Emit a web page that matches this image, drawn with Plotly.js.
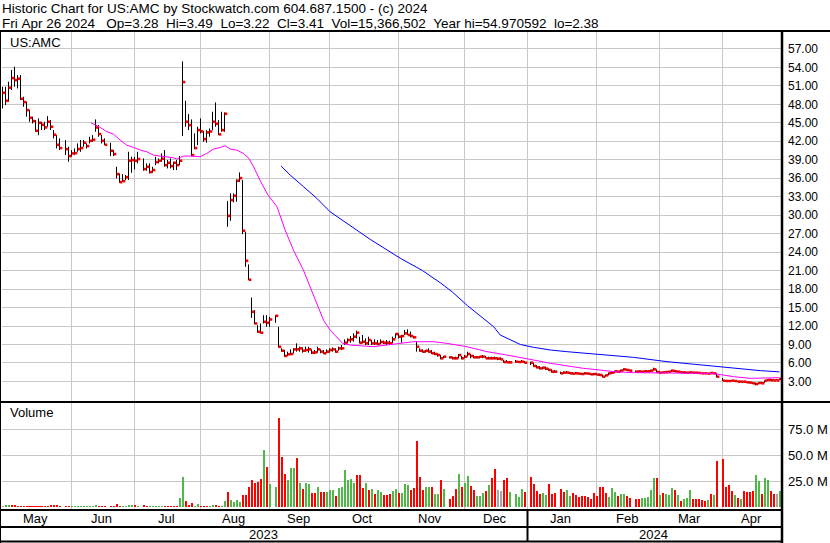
<!DOCTYPE html>
<html><head><meta charset="utf-8">
<script src="https://cdn.plot.ly/plotly-3.0.1.min.js"></script>
<style>html,body{margin:0;padding:0;background:#fff}#chart{width:830px;height:543px}</style>
</head><body><div id="chart"></div>
<script>
// slot index = weekday index from Mon May 1 2023 (market holidays are null)
const high = [
50.86,50.86,51.67,53.57,54.11,52.75,52.75,49.23,48.42,47.07,
45.99,45.44,45.72,45.17,45.17,46.09,45.44,43.82,43.01,42.47,
null,42.20,41.11,40.57,40.84,41.65,42.20,42.20,41.65,42.74,
43.01,45.55,44.63,43.01,42.47,null,41.76,40.57,37.86,36.78,
36.67,36.51,40.30,39.49,39.49,40.30,null,39.22,38.41,38.41,
37.86,39.49,39.22,40.03,40.57,38.95,39.22,38.68,38.95,39.60,
54.97,48.58,46.42,45.55,43.28,44.36,45.72,43.66,43.82,44.09,
46.80,48.31,45.44,46.80,46.69,32.29,33.53,33.53,35.81,36.94,
35.70,27.30,22.00,16.63,14.58,12.14,12.41,13.76,13.76,13.49,
null,13.76,11.87,8.37,8.10,7.83,8.21,8.37,9.18,8.64,
8.53,8.64,8.64,8.21,8.10,8.64,8.21,8.10,8.21,8.37,
8.53,8.37,8.64,8.91,9.83,9.99,10.37,10.81,11.24,10.26,
10.54,9.99,10.26,9.72,9.83,9.72,9.83,9.62,9.72,9.62,
10.26,10.81,10.81,10.54,11.35,11.46,11.08,10.37,9.45,8.37,
8.21,8.10,8.37,8.10,7.83,7.56,7.29,7.13,null,7.02,
7.02,7.02,7.45,7.13,7.29,7.83,7.45,7.29,7.13,7.13,
7.29,7.13,7.02,7.02,7.02,6.91,6.91,6.47,6.47,6.31,
null,6.47,6.31,6.47,6.31,null,6.20,6.04,5.66,5.50,
5.39,5.39,5.12,4.96,4.85,null,4.58,4.64,4.69,4.53,
4.48,4.53,4.42,4.37,4.48,4.42,4.31,4.37,4.31,4.26,
4.10,4.10,4.42,4.58,4.75,4.75,4.91,5.12,5.02,4.91,
null,4.75,4.75,4.69,4.75,4.75,4.91,5.23,4.96,4.64,
4.58,4.64,4.69,4.91,4.80,4.69,4.64,4.58,4.53,4.58,
4.53,4.53,4.48,4.42,4.42,4.37,4.48,4.42,4.31,null,
3.56,3.23,3.18,3.23,3.18,3.07,3.07,3.02,2.96,2.96,
2.85,2.75,2.85,2.91,3.18,3.34,3.45,3.34,3.40,3.49];
const low = [
47.34,47.88,48.42,50.32,50.86,50.59,48.69,47.61,46.00,45.17,
44.90,43.55,43.01,43.82,43.82,44.36,43.82,42.47,40.84,40.57,
null,39.76,38.68,39.49,39.76,40.30,40.30,41.11,40.84,41.65,
41.93,43.55,42.74,41.65,41.38,null,39.60,39.60,35.97,35.27,
35.43,35.70,35.70,36.89,37.43,38.41,null,37.21,37.21,36.78,
36.89,38.13,38.41,38.68,37.86,37.59,37.59,37.33,37.33,38.13,
42.85,44.36,43.82,39.60,40.73,41.38,43.28,41.93,41.76,42.74,
43.82,44.36,43.01,43.55,43.55,28.12,29.09,32.08,32.18,35.43,
26.92,21.62,19.45,13.33,12.30,10.90,10.79,12.41,11.87,11.87,
null,12.52,8.50,7.83,7.02,7.13,7.29,7.56,7.83,7.83,
7.67,7.83,7.67,7.45,7.45,7.67,7.56,7.45,7.56,7.67,
7.83,7.67,7.99,8.10,8.91,9.18,9.29,9.45,9.99,9.18,
9.18,8.91,8.91,8.91,8.91,8.91,9.07,9.07,8.91,8.91,
9.18,9.99,9.99,9.29,10.54,10.54,10.16,9.99,7.83,7.83,
7.67,7.67,7.67,7.45,7.29,7.02,6.58,6.75,null,6.75,
6.58,6.58,6.75,6.58,6.75,7.02,6.75,6.75,6.75,6.75,
6.75,6.75,6.58,6.58,6.58,6.47,6.47,6.04,6.04,5.93,
null,6.04,6.04,6.04,5.93,null,5.66,5.39,5.12,4.96,
4.96,4.85,4.74,4.42,4.42,null,4.20,4.26,4.31,4.20,
4.15,4.20,4.15,4.10,4.15,4.15,4.04,4.04,4.04,3.93,
3.66,3.77,3.99,4.26,4.37,4.48,4.53,4.75,4.75,4.64,
null,4.48,4.48,4.48,4.53,4.53,4.58,4.75,4.42,4.31,
4.37,4.42,4.48,4.53,4.53,4.48,4.42,4.37,4.31,4.31,
4.37,4.31,4.26,4.26,4.20,4.20,4.26,4.20,3.66,null,
3.07,2.96,2.96,3.02,2.96,2.91,2.85,2.85,2.75,2.69,
2.58,2.38,2.53,2.64,2.75,3.07,3.12,3.12,3.18,3.22];
const close = [
49.88,48.58,50.70,52.27,51.94,52.16,48.91,48.37,47.07,45.82,
45.28,43.71,45.01,44.69,44.25,45.17,44.36,43.06,41.43,40.90,
null,40.73,39.60,40.03,40.08,40.73,40.90,41.76,41.22,42.09,
42.25,44.25,43.17,42.09,41.43,null,40.46,39.92,36.67,35.37,
35.53,36.18,38.84,38.95,38.84,39.11,null,37.49,37.86,37.00,
37.33,38.62,38.84,39.16,38.13,38.51,37.97,38.51,38.13,38.84,
51.62,45.17,44.63,39.76,40.90,43.82,43.60,42.36,43.44,43.60,
45.17,44.85,43.12,43.82,46.47,29.90,32.45,33.15,35.59,36.02,
27.47,22.59,19.51,14.30,12.41,11.06,10.90,12.68,12.52,13.06,
null,13.66,8.62,7.99,7.13,7.40,7.45,8.21,8.21,8.37,
7.99,8.10,8.21,7.67,7.72,8.21,7.83,7.56,7.83,8.10,
8.21,7.83,8.37,8.37,9.29,9.72,9.83,10.26,10.91,9.29,
9.45,9.18,9.72,9.18,9.18,9.07,9.40,9.29,9.29,9.18,
9.83,10.70,10.26,10.37,10.81,10.54,10.37,10.16,8.64,7.99,
7.83,7.99,7.83,7.56,7.45,7.29,6.75,7.02,null,6.91,
6.75,6.75,7.29,6.75,7.02,7.45,7.13,6.91,6.91,7.02,
7.02,6.75,6.75,6.75,6.75,6.69,6.58,6.15,6.10,6.10,
null,6.20,6.15,6.20,6.04,null,6.04,5.50,5.28,5.12,
5.23,5.07,4.85,4.58,4.58,null,4.31,4.42,4.42,4.31,
4.26,4.31,4.26,4.20,4.31,4.26,4.15,4.20,4.10,4.04,
3.77,3.99,4.31,4.42,4.64,4.58,4.75,4.96,4.85,4.75,
null,4.58,4.64,4.58,4.64,4.64,4.75,4.96,4.53,4.42,
4.48,4.53,4.58,4.75,4.64,4.58,4.48,4.48,4.42,4.48,
4.42,4.42,4.37,4.31,4.31,4.26,4.37,4.31,3.77,null,
3.12,3.07,3.07,3.12,3.07,2.96,2.96,2.96,2.85,2.80,
2.69,2.58,2.75,2.69,3.12,3.23,3.18,3.15,3.15,3.41];
// volume in millions of shares
const volume = [
0.5,2.0,2.2,2.0,1.5,1.2,1.0,1.0,1.0,1.0,
1.0,1.0,1.0,1.0,1.0,1.0,1.5,1.8,1.5,1.0,
null,1.0,1.0,1.0,1.0,1.0,1.0,1.0,1.0,1.0,
1.2,2.4,1.0,1.0,1.0,null,1.0,1.0,2.8,1.0,
1.0,1.2,2.2,2.2,1.5,0.5,null,1.5,1.0,1.2,
1.2,1.2,1.2,1.2,1.0,1.2,1.2,1.0,1.2,8.3,
28.5,5.8,1.9,3.5,1.0,2.6,0.6,0.5,0.5,1.0,
1.9,1.9,1.0,0.5,5.8,14.1,6.7,5.1,6.7,5.1,
11.5,11.5,18.9,25.9,23.4,24.3,26.6,54.7,38.1,22.1,
null,19.5,85.8,47.7,31.7,25.9,37.1,37.1,46.7,22.7,
17.0,22.7,22.1,13.1,13.1,18.9,14.7,14.7,14.7,16.3,
16.3,10.6,17.9,18.9,35.5,25.9,26.6,22.7,30.7,30.7,
17.9,22.7,16.3,17.0,12.5,16.3,14.7,11.5,11.5,12.5,
15.7,17.0,13.8,13.8,22.1,21.1,16.3,17.9,63.7,28.5,
16.3,18.9,18.9,18.9,12.5,12.5,25.9,17.0,null,7.7,
10.6,17.0,31.7,18.9,22.7,29.8,20.2,16.3,10.6,10.6,
13.1,15.7,21.1,27.5,36.5,16.3,15.7,25.9,27.5,14.4,
null,12.5,9.9,17.0,14.4,null,28.5,22.1,15.7,12.5,
13.1,11.5,22.1,12.5,13.1,null,17.0,14.4,16.3,10.6,
13.1,11.5,9.9,10.6,10.6,9.3,7.7,13.1,10.6,18.9,
19.5,13.1,9.9,17.9,14.7,10.6,12.2,12.2,10.9,8.3,
null,7.7,7.7,8.6,8.6,9.3,16.3,27.8,27.8,11.5,
13.8,12.5,11.2,18.2,16.3,11.5,6.1,8.0,8.6,16.3,
7.4,7.4,7.4,6.7,5.8,6.7,12.5,11.5,44.5,null,
46.1,18.9,21.1,15.7,11.5,9.0,7.7,15.7,14.7,14.7,
15.7,30.7,25.3,12.5,27.8,25.9,15.7,12.5,12.5,15.4];
// u = up day (green), d = down day (red), n = unchanged (grey), - = no trading
const volumeDir = [
"nuuddddddd","dddddddddd","-dduuuuuuu","uuddd-dddd","uuuudu-ddu",
"uuuudddddu","uddduudddu","udduuduuuu","dddddddudu","-uddduuudu",
"duudduddu" + "u","uduuuuuudd","dududuuddd","uuduuudddd","duuduudu-d",
"dduduudduu","ududdnnddu","-uuud-dddd","uuddd-dduu","dddddddddd",
"dduuuduudd","-dduuuuudu","duuududuuu","dddddudud-","ddddududdd",
"duuduuddnu"];
const maFastIdx = [29.5,32.6,34.8,37,39.2,41.4,43.7,45.9,48.1,50.3,52.6,54.8,57,58.1,60.3,63.1,65.9,68.1,70.3,72.6,74.2,75.9,78.1,80.3,82,83.7,85.9,88.5,91.5,94.2,97,100.3,102.6,104.8,107,109.2,111.5,113.4,115.9,119.2,123.7,128.1,132.6,137,143.7,148.1,154.8,161.5,168.1,174.8,177,182.6,188.1,193.7,199.2,203.7,210.3,215.9,221.5,228.1,234.8,238.1,243.7,249.2,254.8,259];
const maFastVal = [45.0,44.25,43.55,43.17,42.2,41.38,41.0,40.57,40.30,39.76,39.60,39.49,39.33,39.11,39.60,39.60,39.49,40.03,40.73,41.0,41.27,40.73,40.57,40.03,39.3,37.86,35.6,33.26,31.37,27.6,24.3,21.08,18.37,15.66,12.95,11.33,10.2,9.17,8.9,8.74,8.64,8.91,9.18,9.45,9.45,9.18,8.64,7.83,7.29,6.75,6.48,5.94,5.50,5.12,4.85,4.58,4.42,4.42,4.42,4.42,4.31,4.20,3.77,3.50,3.50,3.60];
const maSlowIdx = [92.9,95.9,100.4,104.8,109.2,113.7,118.1,122.6,132.6,140,146,150,155,158.1,163.7,165.9,168.1,172.6,177,182.6,188.1,199.2,210.3,221.5,232.6,243.7,252.6,259];
const maSlowVal = [37.97,36.51,34.6,32.72,30.55,29.09,27.6,26.06,23.0,21.0,19.0,17.5,15.3,14.05,11.89,10.54,10.0,9.0,8.54,8.1,7.83,7.4,6.91,6.21,5.67,5.12,4.75,4.55];
const monthNames = ['May','Jun','Jul','Aug','Sep','Oct','Nov','Dec','Jan','Feb','Mar','Apr'];
const monthStart = [0,23,44,66,89,109,132,154,175,198,219,240];
const yearNames = ['2023','2024'];
const yearStart = [0,175];
const priceTicks = [3,6,9,12,15,18,21,24,27,30,33,36,39,42,45,48,51,54,57];
const volumeTicks = [25,50,75];
const header1 = 'Historic Chart for US:AMC by Stockwatch.com 604.687.1500 - (c) 2024';
const header2 = 'Fri Apr 26 2024   Op=3.28  Hi=3.49  Lo=3.22  Cl=3.41  Vol=15,366,502  Year hi=54.970592  lo=2.38';
const symbolLabel = 'US:AMC';
const nSlots = 260;

// ---------- build ----------
const W = 830, H = 543;
const px = x => x / W, py = y => 1 - y / H;
const dirStr = volumeDir.join('');
const dirColor = {u:'#4fb848', d:'#ff0000', n:'#a6a6a6'};
const idx = [...Array(nSlots).keys()];
const hlX = [], hlY = [];
idx.forEach(i => { if (high[i] != null) { hlX.push(i, i, null); hlY.push(low[i], high[i], null); } });
const volColors = idx.map(i => dirColor[dirStr[i]] || '#a6a6a6');

const FONT = 'Arial, "Liberation Sans", sans-serif';
const traces = [
  {type:'scatter', mode:'lines', x:hlX, y:hlY, line:{color:'#000', width:1}, xaxis:'x', yaxis:'y', hoverinfo:'skip'},
  {type:'scatter', mode:'markers', x:idx.map(i => i + 0.5), y:close, marker:{symbol:'square', size:2.6, color:'#ff0000', line:{width:0}}, xaxis:'x', yaxis:'y'},
  {type:'scatter', mode:'lines', x:maFastIdx, y:maFastVal, line:{color:'#ff00ff', width:1}, xaxis:'x', yaxis:'y'},
  {type:'scatter', mode:'lines', x:maSlowIdx, y:maSlowVal, line:{color:'#0000ff', width:1}, xaxis:'x', yaxis:'y'},
  {type:'bar', x:idx, y:volume, width:0.67, marker:{color:volColors, line:{width:0}}, xaxis:'x2', yaxis:'y2'}
];

const gridIdx = monthStart.slice(1);
const xr = [-1/6, -1/6 + 779/3];
const xCommon = {range:xr, tickmode:'array', tickvals:gridIdx, showticklabels:false, showgrid:true,
  gridcolor:'#c8c8c8', gridwidth:1, zeroline:false, showline:false, ticks:'', fixedrange:true, automargin:false};

const pxPerUnit = 6.157;
const priceRange = [12 + (326 - 402) / pxPerUnit, 12 + (326 - 31) / pxPerUnit];
const volPx = 1.04, volZero = 507;
const volRange = [(volZero - 509) / volPx, (volZero - 403) / volPx];

const txt = (x, y, text, size, xanchor, xref, yanchor) => ({xref:xref || 'paper', yref:'paper', x:x, y:y, xanchor:xanchor || 'left', yanchor:yanchor || 'middle',
  text:text, showarrow:false, borderpad:0, font:{family:FONT, size:size, color:'#000'}});
const ann = [];
ann.push(txt(px(1), py(0.2), header1, 13.5, 'left', 'paper', 'top'));
ann.push(txt(px(1), py(15.4), header2.replace(/ /g, '\u00a0'), 13.5, 'left', 'paper', 'top'));
ann.push(txt(px(9), py(42), symbolLabel, 13));
ann.push(txt(px(9), py(413), 'Volume', 13));
monthNames.forEach((m, k) => {
  const s = monthStart[k], e = k + 1 < monthStart.length ? monthStart[k + 1] : nSlots;
  ann.push(txt((s + e) / 2 - 0.5, py(518.5), m, 13, 'center', 'x'));
});
yearNames.forEach((yname, k) => {
  const s = yearStart[k], e = k + 1 < yearStart.length ? yearStart[k + 1] : nSlots;
  ann.push(txt((s + e) / 2 - 0.5, py(534.5), yname, 13, 'center', 'x'));
});

const ln = (x0, y0, x1, y1, w) => ({type:'line', xref:'paper', yref:'paper', x0:px(x0), y0:py(y0), x1:px(x1), y1:py(y1), line:{color:'#000', width:w}, layer:'above'});
const shapes = [
  ln(0, 31, 830, 31, 2),
  ln(0, 402, 830, 402, 2),
  ln(0, 510, 782, 510, 2),
  ln(0, 527, 782, 527, 2),
  ln(0, 541.5, 782, 541.5, 2),
  ln(782, 30, 782, 543, 2.5),
  ln(0.5, 31, 0.5, 543, 1),
  {type:'line', xref:'x', yref:'paper', x0:yearStart[1], x1:yearStart[1], y0:py(510), y1:py(541), line:{color:'#000', width:2}, layer:'above'}
];

const layout = {
  width:W, height:H, margin:{l:0, r:0, t:0, b:0, pad:0}, autosize:false,
  paper_bgcolor:'#fff', plot_bgcolor:'#fff', showlegend:false,
  font:{family:FONT, size:12, color:'#000'},
  xaxis:Object.assign({domain:[px(2), px(781)], anchor:'y'}, xCommon),
  xaxis2:Object.assign({domain:[px(2), px(781)], anchor:'y2', matches:'x'}, xCommon),
  yaxis:{domain:[py(402), py(31)], range:priceRange, side:'right', anchor:'x', tickmode:'array', tickvals:priceTicks,
    ticktext:priceTicks.map(v => v.toFixed(2)), showgrid:true, gridcolor:'#c8c8c8', gridwidth:1, zeroline:false, showline:false,
    ticks:'', ticklabelstandoff:6, tickfont:{family:FONT, size:12, color:'#000'}, fixedrange:true, automargin:false},
  yaxis2:{domain:[py(509), py(403)], range:volRange, side:'right', anchor:'x2', tickmode:'array', tickvals:volumeTicks,
    ticktext:volumeTicks.map(v => v.toFixed(1) + ' M'), showgrid:true, gridcolor:'#c8c8c8', gridwidth:1, zeroline:false, showline:false,
    ticks:'', ticklabelstandoff:6, tickfont:{family:FONT, size:13, color:'#000'}, fixedrange:true, automargin:false},
  annotations:ann, shapes:shapes, bargap:0
};
Plotly.newPlot('chart', traces, layout, {staticPlot:true, displayModeBar:false});
</script>
</body></html>
